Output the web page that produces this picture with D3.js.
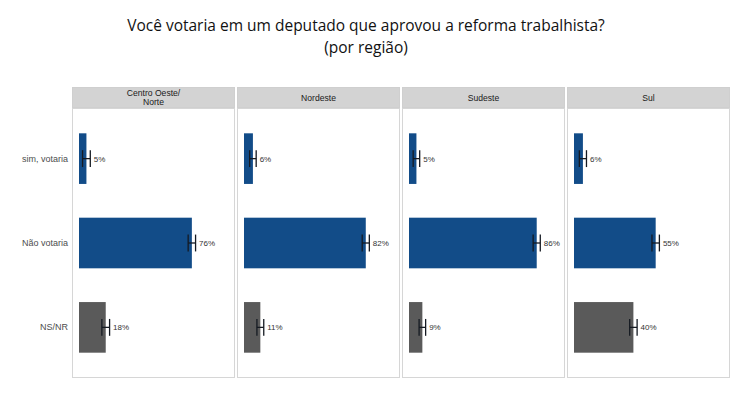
<!DOCTYPE html>
<html>
<head>
<meta charset="utf-8">
<script src="https://cdn.jsdelivr.net/npm/d3@7"></script>
<style>
html,body{margin:0;padding:0;background:#fff;}
svg{display:block;}
</style>
</head>
<body>
<svg id="chart" width="750" height="398"></svg>
<script>
// ---- data ----
const regions = ["Centro Oeste/\nNorte", "Nordeste", "Sudeste", "Sul"];
const categories = ["sim, votaria", "Não votaria", "NS/NR"];
const simValues = [5, 6, 5, 6];
const naoValues = [76, 82, 86, 55];
const nsValues = [18, 11, 9, 40];
const simErrors = [2.6, 2.2, 2.2, 2.4];
const naoErrors = [2.5, 2.4, 2.4, 2.5];
const nsErrors = [2.6, 2.3, 2.2, 2.5];
const titleLines = ["Você votaria em um deputado que aprovou a reforma trabalhista?", "(por região)"];

const seriesValues = [simValues, naoValues, nsValues];
const seriesErrors = [simErrors, naoErrors, nsErrors];
const seriesColors = ["#124c88", "#124c88", "#5a5a5a"];

// ---- layout ----
const svg = d3.select("#chart");
const panelLeft = 72, panelW = 163, panelGap = 2;
const stripTop = 87, stripH = 21;
const bodyTop = stripTop + stripH, bodyBottom = 378;

// title
const title = svg.append("g");
titleLines.forEach((t, i) => {
  title.append("text")
    .attr("x", 366).attr("y", 31 + i * 22)
    .attr("text-anchor", "middle")
    .attr("font-family", "'Open Sans', 'Noto Sans', sans-serif")
    .attr("font-size", 16.5)
    .attr("transform", `translate(366,0) scale(0.94,1) translate(-366,0)`)
    .attr("fill", "#111")
    .text(t);
});

const x = d3.scaleLinear().domain([0, 100]).range([7, 7 + 148.5]);
const y = d3.scaleBand().domain(categories).range([bodyTop, bodyBottom])
  .paddingInner(0.4).paddingOuter(0.3);
const px = d3.scaleBand().domain(regions).range([panelLeft, panelLeft + 4 * panelW + 3 * panelGap])
  .paddingInner(panelGap / (panelW + panelGap)).paddingOuter(0);

// y axis labels
const yAxis = d3.axisLeft(y).tickSize(0).tickPadding(0);
const yg = svg.append("g").attr("transform", `translate(${panelLeft - 4},0)`).call(yAxis);
yg.select(".domain").remove();
yg.selectAll("text")
  .attr("font-family", "'Liberation Sans', Arial, sans-serif")
  .attr("font-size", 9)
  .attr("fill", "#4d4d4d");

regions.forEach((r, ri) => {
  const g = svg.append("g").attr("transform", `translate(${px(r)},0)`);
  // strip
  g.append("rect").attr("x", 0.5).attr("y", stripTop + 0.5)
    .attr("width", panelW - 1).attr("height", stripH - 1)
    .attr("fill", "#d3d3d3").attr("stroke", "#cfcfcf");
  const lines = r.split("\n");
  lines.forEach((l, li) => {
    g.append("text")
      .attr("x", panelW / 2)
      .attr("y", stripTop + stripH / 2 + 3 + (li - (lines.length - 1) / 2) * 8.8)
      .attr("text-anchor", "middle")
      .attr("font-family", "'Liberation Sans', Arial, sans-serif")
      .attr("font-size", 8.6)
      .attr("fill", "#1a1a1a")
      .text(l);
  });
  // panel body
  g.append("rect").attr("x", 0.5).attr("y", bodyTop + 0.5)
    .attr("width", panelW - 1).attr("height", bodyBottom - bodyTop - 1)
    .attr("fill", "#fff").attr("stroke", "#d6d6d6");

  categories.forEach((c, ci) => {
    const v = seriesValues[ci][ri];
    const e = seriesErrors[ci][ri];
    const yc = y(c) + y.bandwidth() / 2;
    g.append("rect")
      .attr("x", x(0)).attr("y", y(c))
      .attr("width", x(v) - x(0)).attr("height", y.bandwidth())
      .attr("fill", seriesColors[ci]);
    const x1 = x(v - e), x2 = x(v + e);
    const wh = y.step() * 0.1;
    const eb = g.append("g").attr("stroke", "#151a22").attr("stroke-width", 1.3).attr("fill", "none");
    eb.append("line").attr("x1", x1).attr("x2", x2).attr("y1", yc).attr("y2", yc);
    eb.append("line").attr("x1", x1).attr("x2", x1).attr("y1", yc - wh).attr("y2", yc + wh);
    eb.append("line").attr("x1", x2).attr("x2", x2).attr("y1", yc - wh).attr("y2", yc + wh);
    g.append("text")
      .attr("x", x2 + 3.5).attr("y", yc + 3)
      .attr("font-family", "'Liberation Sans', Arial, sans-serif")
      .attr("font-size", 8)
      .attr("fill", "#333")
      .text(v + "%");
  });
});
</script>
</body>
</html>
